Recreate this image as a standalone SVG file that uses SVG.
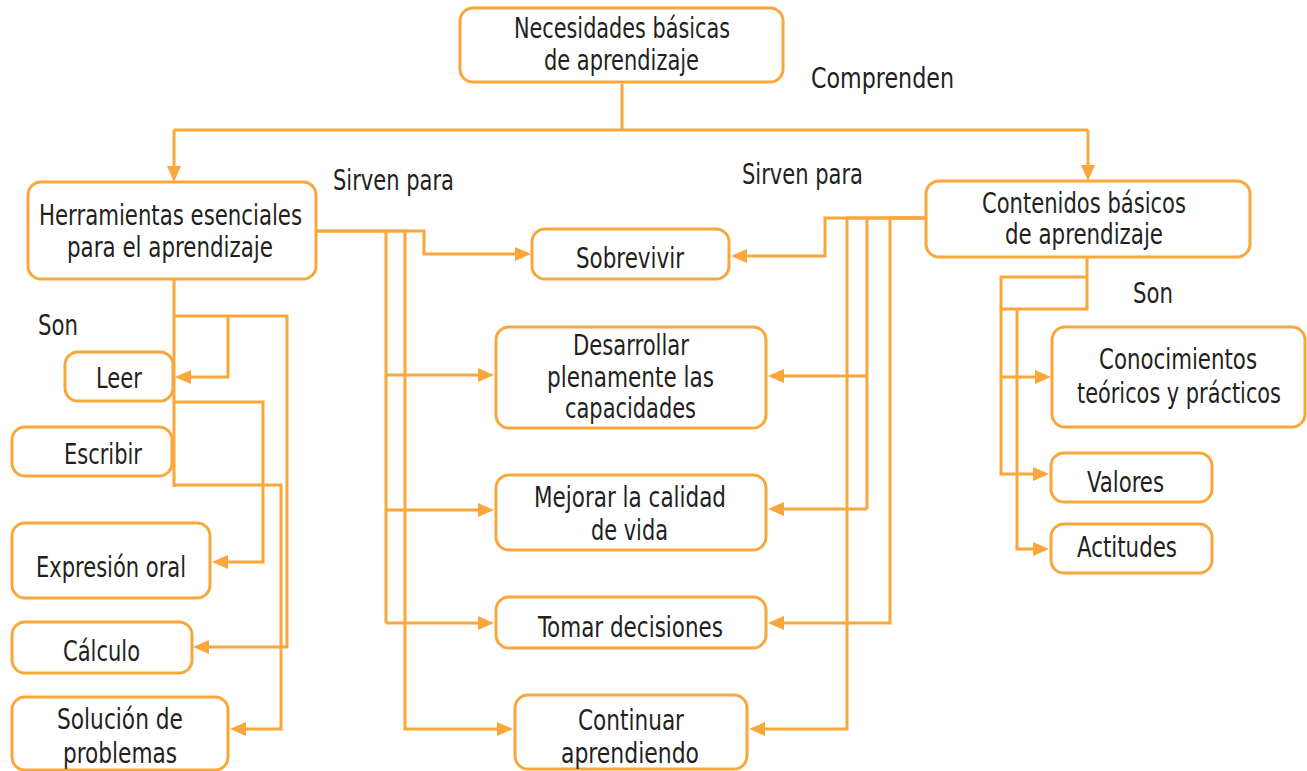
<svg xmlns="http://www.w3.org/2000/svg" width="1307" height="771" viewBox="0 0 1307 771">
<style>
.box{fill:#ffffff;stroke:#F9A63A;stroke-width:3}
.ln{fill:none;stroke:#F9A63A;stroke-width:3}
.ar{fill:none;stroke:#F9A63A;stroke-width:3;marker-end:url(#ah)}
text{font-family:"Liberation Sans Narrow","DejaVu Sans Condensed","Liberation Sans",sans-serif;font-size:29px;fill:#231F20}
</style>
<defs>
<marker id="ah" markerWidth="16" markerHeight="14" refX="12" refY="7" orient="auto" markerUnits="userSpaceOnUse">
<path d="M0,0 L16,7 L0,14 z" fill="#F9A63A"/>
</marker>
</defs>
<rect width="1307" height="771" fill="#ffffff"/>
<g id="connectors">
<path class="ln" d="M622,84 V130"/>
<path class="ln" d="M174,130 H1088"/>
<path class="ar" d="M174,130 V178"/>
<path class="ar" d="M1088,130 V177"/>
<path class="ln" d="M174,279 V487"/>
<path class="ln" d="M174,316 H287 V647 H197" marker-end="url(#ah)"/>
<path class="ar" d="M228,316 V377 H179"/>
<path class="ar" d="M174,402 H263 V562 H216"/>
<path class="ar" d="M174,485 H281 V729 H234"/>
<path class="ar" d="M316,231 H424 V254 H527"/>
<path class="ln" d="M386,231 V623"/>
<path class="ar" d="M386,375 H490"/>
<path class="ar" d="M386,510 H490"/>
<path class="ar" d="M386,623 H490"/>
<path class="ar" d="M316,231 H405 V729 H509"/>
<path class="ar" d="M926,218 H825 V256 H735"/>
<path class="ar" d="M926,218 H847 V729 H753"/>
<path class="ln" d="M867,218 V509"/>
<path class="ar" d="M867,376 H772"/>
<path class="ar" d="M867,509 H772"/>
<path class="ar" d="M926,218 H890 V623 H772"/>
<path class="ln" d="M1087,257 V309 H1001 V277 H1087"/>
<path class="ar" d="M1001,309 V474 H1045"/>
<path class="ar" d="M1001,377 H1047"/>
<path class="ar" d="M1017,309 V549 H1045"/>
</g>
<g id="n-necesidades"><rect class="box" x="460" y="8" width="323" height="74" rx="13"/>
<text x="514" y="38" textLength="216" lengthAdjust="spacingAndGlyphs">Necesidades básicas</text>
<text x="544" y="70" textLength="155" lengthAdjust="spacingAndGlyphs">de aprendizaje</text></g>
<g id="n-herramientas"><rect class="box" x="28" y="182" width="288" height="97" rx="13"/>
<text x="39" y="225" textLength="263" lengthAdjust="spacingAndGlyphs">Herramientas esenciales</text>
<text x="67" y="257" textLength="206" lengthAdjust="spacingAndGlyphs">para el aprendizaje</text></g>
<g id="n-contenidos"><rect class="box" x="926" y="181" width="324" height="76" rx="13"/>
<text x="982" y="213" textLength="204" lengthAdjust="spacingAndGlyphs">Contenidos básicos</text>
<text x="1005" y="244" textLength="158" lengthAdjust="spacingAndGlyphs">de aprendizaje</text></g>
<g id="n-sobrevivir"><rect class="box" x="532" y="229" width="197" height="50" rx="13"/>
<text x="576" y="268" textLength="108" lengthAdjust="spacingAndGlyphs">Sobrevivir</text></g>
<g id="n-desarrollar"><rect class="box" x="496" y="327" width="270" height="101" rx="13"/>
<text x="573" y="355" textLength="116" lengthAdjust="spacingAndGlyphs">Desarrollar</text>
<text x="547" y="387" textLength="167" lengthAdjust="spacingAndGlyphs">plenamente las</text>
<text x="565" y="418" textLength="131" lengthAdjust="spacingAndGlyphs">capacidades</text></g>
<g id="n-mejorar"><rect class="box" x="496" y="475" width="270" height="75" rx="13"/>
<text x="534" y="507" textLength="192" lengthAdjust="spacingAndGlyphs">Mejorar la calidad</text>
<text x="591" y="540" textLength="77" lengthAdjust="spacingAndGlyphs">de vida</text></g>
<g id="n-tomar"><rect class="box" x="496" y="597" width="270" height="51" rx="13"/>
<text x="538" y="637" textLength="185" lengthAdjust="spacingAndGlyphs">Tomar decisiones</text></g>
<g id="n-continuar"><rect class="box" x="515" y="695" width="232" height="74" rx="13"/>
<text x="578" y="730" textLength="106" lengthAdjust="spacingAndGlyphs">Continuar</text>
<text x="561" y="763" textLength="138" lengthAdjust="spacingAndGlyphs">aprendiendo</text></g>
<g id="n-leer"><rect class="box" x="65" y="352" width="108" height="49" rx="13"/>
<text x="96" y="388" textLength="46" lengthAdjust="spacingAndGlyphs">Leer</text></g>
<g id="n-escribir"><rect class="box" x="12" y="427" width="160" height="49" rx="13"/>
<text x="64" y="464" textLength="78" lengthAdjust="spacingAndGlyphs">Escribir</text></g>
<g id="n-expresion"><rect class="box" x="12" y="523" width="198" height="75" rx="13"/>
<text x="36" y="577" textLength="150" lengthAdjust="spacingAndGlyphs">Expresión oral</text></g>
<g id="n-calculo"><rect class="box" x="12" y="622" width="180" height="51" rx="13"/>
<text x="63" y="661" textLength="77" lengthAdjust="spacingAndGlyphs">Cálculo</text></g>
<g id="n-solucion"><rect class="box" x="12" y="697" width="216" height="73" rx="13"/>
<text x="57" y="729" textLength="126" lengthAdjust="spacingAndGlyphs">Solución de</text>
<text x="63" y="763" textLength="114" lengthAdjust="spacingAndGlyphs">problemas</text></g>
<g id="n-conocimientos"><rect class="box" x="1052" y="327" width="253" height="100" rx="13"/>
<text x="1099" y="369" textLength="158" lengthAdjust="spacingAndGlyphs">Conocimientos</text>
<text x="1077" y="403" textLength="204" lengthAdjust="spacingAndGlyphs">teóricos y prácticos</text></g>
<g id="n-valores"><rect class="box" x="1051" y="453" width="161" height="49" rx="13"/>
<text x="1087" y="492" textLength="77" lengthAdjust="spacingAndGlyphs">Valores</text></g>
<g id="n-actitudes"><rect class="box" x="1051" y="524" width="161" height="49" rx="13"/>
<text x="1077" y="557" textLength="100" lengthAdjust="spacingAndGlyphs">Actitudes</text></g>
<g id="labels">
<text x="811" y="88" textLength="143" lengthAdjust="spacingAndGlyphs">Comprenden</text>
<text x="333" y="190" textLength="121" lengthAdjust="spacingAndGlyphs">Sirven para</text>
<text x="742" y="184" textLength="121" lengthAdjust="spacingAndGlyphs">Sirven para</text>
<text x="38" y="335" textLength="40" lengthAdjust="spacingAndGlyphs">Son</text>
<text x="1133" y="303" textLength="40" lengthAdjust="spacingAndGlyphs">Son</text>
</g>
</svg>
